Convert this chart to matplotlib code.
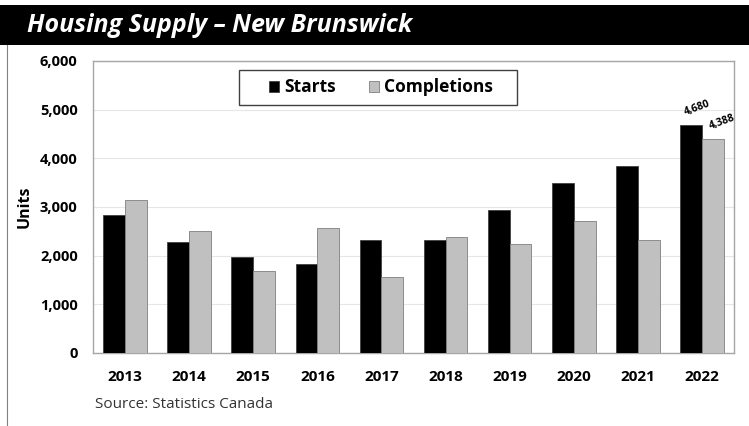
import matplotlib
matplotlib.use("Agg")
import matplotlib.pyplot as plt
import numpy as np

years = ["2013", "2014", "2015", "2016", "2017", "2018", "2019", "2020", "2021", "2022"]
starts = [2836, 2281, 1973, 1829, 2322, 2322, 2938, 3493, 3842, 4680]
completions = [3144, 2507, 1685, 2568, 1562, 2383, 2240, 2712, 2322, 4388]
yticks = [0, 1000, 2000, 3000, 4000, 5000, 6000]

plt.rcParams["font.family"] = ["Open Sans", "DejaVu Sans"]

fig = plt.figure(figsize=(7.49, 4.26), dpi=100)
W, H = 749, 426

# title bar
fig.patches.append(plt.Rectangle((0, 1 - 45 / H), 1, 40 / H, transform=fig.transFigure,
                                 facecolor="black", edgecolor="none"))
fig.text(27 / W, 1 - 26 / H, "Housing Supply \u2013 New Brunswick", color="white",
         fontsize=18, fontweight="bold", fontstyle="italic",
         va="center", ha="left")
# left border line
fig.lines.append(plt.Line2D([7 / W, 7 / W], [0, 1 - 45 / H], transform=fig.transFigure,
                            color="#808080", lw=0.8))

ax = fig.add_axes([93 / W, (H - 353) / H, (734 - 93) / W, (353 - 61) / H])
x = np.arange(len(years))
bw = 0.34
b1 = ax.bar(x - bw / 2, starts, bw, color="black", edgecolor="#404040", linewidth=0.6,
            label="Starts", zorder=3)
b2 = ax.bar(x + bw / 2, completions, bw, color="#c0c0c0", edgecolor="#7f7f7f", linewidth=0.6,
            label="Completions", zorder=3)

ax.set_xlim(-0.5, len(years) - 0.5)
ax.set_ylim(0, 6000)
ax.set_yticks(yticks)
ax.set_yticklabels([f"{v:,}" for v in yticks])
ax.set_xticks(x)
ax.set_xticklabels(years)
ax.yaxis.grid(True, color="#e6e6e6", lw=0.8, zorder=0)
ax.set_axisbelow(True)
for s in ax.spines.values():
    s.set_color("#a6a6a6")
    s.set_linewidth(1.0)
ax.tick_params(length=0)
for lab in ax.get_xticklabels():
    lab.set_fontweight("bold")
    lab.set_fontsize(11)
for lab in ax.get_yticklabels():
    lab.set_fontweight("bold")
    lab.set_fontsize(10.5)
ax.tick_params(axis="x", pad=12)
ax.tick_params(axis="y", pad=11)
ax.set_ylabel("Units", fontsize=11.5, fontweight="bold", labelpad=5)

# value labels for last year
i = len(years) - 1
ax.text(x[i] - bw / 2 + 0.1, starts[i] + 150, f"{starts[i]:,}", rotation=20, fontsize=7.5,
        fontweight="bold", ha="center", va="bottom")
ax.text(x[i] + bw / 2 + 0.15, completions[i] + 150, f"{completions[i]:,}", rotation=20,
        fontsize=7.5, fontweight="bold", ha="center", va="bottom")

# legend frame drawn as a box, legend itself without frame
box = plt.Rectangle((239 / W, 1 - 105 / H), (517 - 239) / W, 35 / H,
                    transform=fig.transFigure, facecolor="white", edgecolor="#404040",
                    linewidth=1.0, zorder=4)
fig.patches.append(box)
leg = fig.legend(handles=[b1, b2], labels=["Starts", "Completions"],
                 loc="center", bbox_to_anchor=(381 / W, 1 - 87.5 / H),
                 bbox_transform=fig.transFigure, ncol=2, frameon=False,
                 prop={"weight": "bold", "size": 12.5}, handlelength=0.6, handleheight=0.6,
                 columnspacing=1.9, handletextpad=0.3, borderpad=0.0, borderaxespad=0)
leg.set_zorder(5)

fig.text(95 / W, 1 - 404 / H, "Source: Statistics Canada", fontsize=11, color="#333333",
         va="center", ha="left")

fig.savefig("out.png", dpi=100)
